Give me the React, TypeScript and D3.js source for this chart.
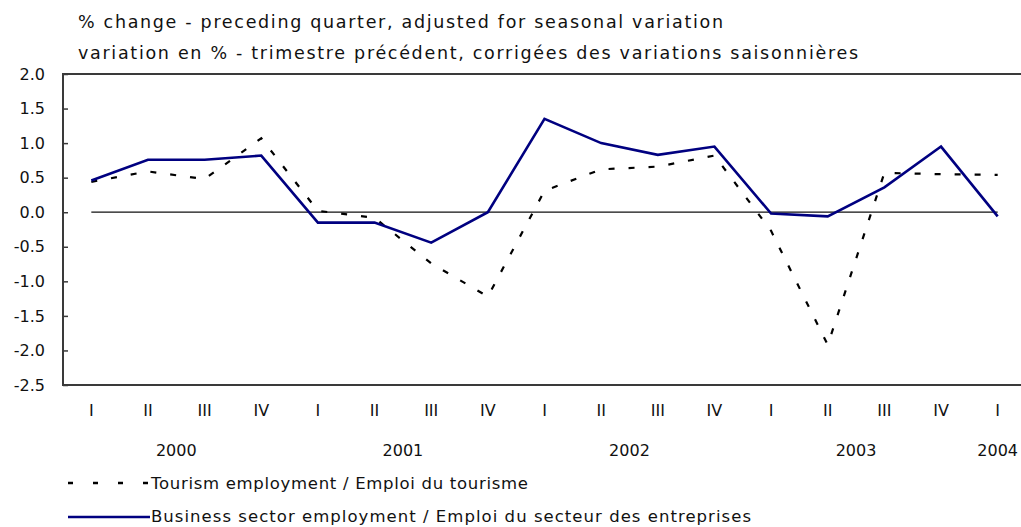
import React, { useRef, useEffect } from 'react';
import * as d3 from "d3";

// quarterly % change, 2000 Q1 .. 2004 Q1
const quarters = ["I", "II", "III", "IV", "I", "II", "III", "IV", "I", "II", "III", "IV", "I", "II", "III", "IV", "I"];
const tourism = [0.44, 0.59, 0.48, 1.07, 0.02, -0.08, -0.74, -1.22, 0.31, 0.62, 0.66, 0.82, -0.27, -1.92, 0.57, 0.55, 0.54];
const business = [0.46, 0.76, 0.76, 0.82, -0.15, -0.15, -0.44, 0.0, 1.35, 1.0, 0.83, 0.95, -0.02, -0.06, 0.36, 0.95, -0.06];

const yearLabels = ["2000", "2001", "2002", "2003", "2004"];
const yearFirst = [0, 4, 8, 12, 16];
const yearLast = [3, 7, 11, 15, 16];

const yTicks = [2.0, 1.5, 1.0, 0.5, 0.0, -0.5, -1.0, -1.5, -2.0, -2.5];

const titleLines = [
  "% change - preceding quarter, adjusted for seasonal variation",
  "variation en % - trimestre précédent, corrigées des variations saisonnières",
];
const legendLabels = [
  "Tourism employment / Emploi du tourisme",
  "Business sector employment / Emploi du secteur des entreprises",
];

const FONT = "'DejaVu Sans', sans-serif";

export default function App() {
  const svgRef = useRef<SVGSVGElement>(null);

  useEffect(() => {
    if (!svgRef.current) return;
    const svg = d3.select(svgRef.current);
    svg.selectAll("*").remove();

    const left = 63, top = 74, bottom = 385;

    const x = d3.scaleBand<number>()
      .domain(d3.range(quarters.length))
      .range([left, 1026])
      .paddingInner(0);
    const cx = (i: number) => (x(i) as number) + x.bandwidth() / 2;

    const y = d3.scaleLinear().domain([-2.5, 2.0]).range([bottom, top]);

    // titles
    const tl = [645, 780];
    svg.selectAll("text.title")
      .data(titleLines)
      .join("text")
      .attr("class", "title")
      .attr("x", 78)
      .attr("y", (d, i) => 28 + i * 31)
      .attr("textLength", (d, i) => tl[i])
      .attr("lengthAdjust", "spacing")
      .style("font-family", FONT)
      .style("font-size", "17.5px")
      .attr("fill", "#111")
      .text(d => d);

    // frame
    const frame = svg.append("g").attr("stroke", "#3a3a3a").attr("stroke-width", 2);
    frame.append("line").attr("x1", left).attr("x2", 1021).attr("y1", top).attr("y2", top);
    frame.append("line").attr("x1", left).attr("x2", 1021).attr("y1", bottom).attr("y2", bottom);
    frame.append("line").attr("x1", left).attr("x2", left).attr("y1", top - 1).attr("y2", bottom + 1);

    // y axis (hyphen minus, as in the source)
    const yAxis = d3.axisLeft(y)
      .tickValues(yTicks)
      .tickSizeInner(-5)
      .tickSizeOuter(0)
      .tickPadding(18)
      .tickFormat(d => (+d).toFixed(1));
    const ya = svg.append("g").attr("transform", `translate(${left},0)`).call(yAxis);
    ya.select(".domain").remove();
    ya.selectAll("line").attr("stroke", "#3a3a3a").attr("stroke-width", 1.5);
    ya.selectAll("text")
      .style("font-family", FONT)
      .style("font-size", "16px")
      .attr("fill", "#111");

    // zero line
    svg.append("line")
      .attr("x1", cx(0)).attr("x2", cx(quarters.length - 1))
      .attr("y1", y(0)).attr("y2", y(0))
      .attr("stroke", "#111").attr("stroke-width", 1.2);

    const line = d3.line<number>().x((d, i) => cx(i)).y(d => y(d));

    svg.append("path")
      .datum(tourism)
      .attr("fill", "none")
      .attr("stroke", "#000")
      .attr("stroke-width", 2.2)
      .attr("stroke-dasharray", "6,14")
      .attr("d", line);

    svg.append("path")
      .datum(business)
      .attr("fill", "none")
      .attr("stroke", "#000080")
      .attr("stroke-width", 2.6)
      .attr("d", line);

    // quarter labels
    svg.selectAll("text.q")
      .data(quarters)
      .join("text")
      .attr("class", "q")
      .attr("x", (d, i) => cx(i))
      .attr("y", 416)
      .attr("text-anchor", "middle")
      .style("font-family", FONT)
      .style("font-size", "16px")
      .attr("fill", "#111")
      .text(d => d);

    // year labels
    svg.selectAll("text.yr")
      .data(yearLabels)
      .join("text")
      .attr("class", "yr")
      .attr("x", (d, i) => (cx(yearFirst[i]) + cx(yearLast[i])) / 2)
      .attr("y", 456)
      .attr("text-anchor", "middle")
      .style("font-family", FONT)
      .style("font-size", "16px")
      .attr("fill", "#111")
      .text(d => d);

    // legend
    const leg = svg.append("g");
    leg.append("line")
      .attr("x1", 68).attr("x2", 150).attr("y1", 483).attr("y2", 483)
      .attr("stroke", "#000").attr("stroke-width", 2.4)
      .attr("stroke-dasharray", "5,20");
    leg.append("line")
      .attr("x1", 68).attr("x2", 150).attr("y1", 517).attr("y2", 517)
      .attr("stroke", "#000080").attr("stroke-width", 2.6);
    const ll = [377, 600];
    leg.selectAll("text")
      .data(legendLabels)
      .join("text")
      .attr("x", 151)
      .attr("y", (d, i) => 489 + i * 33)
      .attr("textLength", (d, i) => ll[i])
      .attr("lengthAdjust", "spacing")
      .style("font-family", FONT)
      .style("font-size", "16.5px")
      .attr("fill", "#111")
      .text(d => d);
  }, []);

  return (
    <svg
      ref={svgRef}
      width={1021}
      height={527}
      style={{ position: "absolute", left: 0, top: 0, background: "#fff" }}
    />
  );
}
